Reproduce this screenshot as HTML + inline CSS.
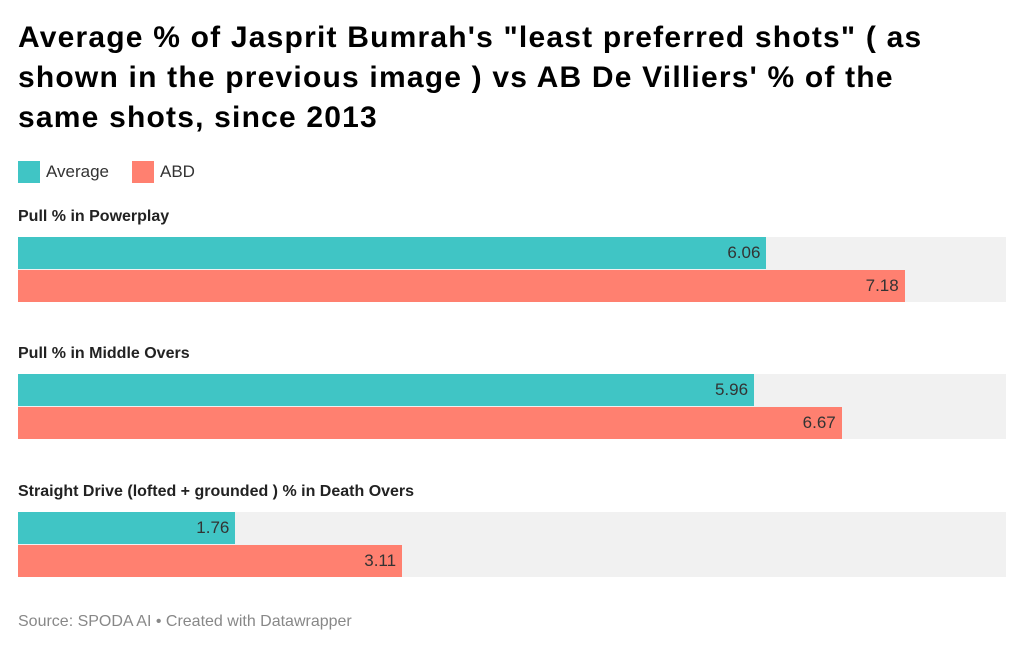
<!DOCTYPE html>
<html><head><meta charset="utf-8"><style>
body{margin:0;width:1024px;height:649px;background:#fff;font-family:"Liberation Sans",Arial,sans-serif;position:relative;overflow:hidden}
#title{position:absolute;left:18px;top:18px;font-size:30px;font-weight:bold;line-height:40px;color:#000;width:965px;letter-spacing:1.2px}
.leg{position:absolute;top:161px;font-size:17px;color:#333;display:flex;align-items:center}
.sw{width:22px;height:22px;margin-right:6px}
.lbl{position:absolute;left:18px;font-size:16px;font-weight:bold;color:#222}
.bg{position:absolute;left:18px;background:#f1f1f1}
.bar{position:absolute;left:18px}
.val{position:absolute;font-size:17px;color:#333;text-align:right}
#src{position:absolute;left:18px;top:613px;font-size:16px;color:#888}
</style></head><body>
<div id="title">Average % of Jasprit Bumrah's "least preferred shots" ( as shown in the previous image ) vs AB De Villiers' % of the same shots, since 2013</div>
<div class="leg" style="left:18px"><div class="sw" style="background:#40c5c5"></div>Average</div>
<div class="leg" style="left:132px"><div class="sw" style="background:#ff8070"></div>ABD</div>
<div id="chart"></div>
<div id="src">Source: SPODA AI • Created with Datawrapper</div>
<script>
const categories=["Pull % in Powerplay","Pull % in Middle Overs","Straight Drive (lofted + grounded ) % in Death Overs"];
const averageValues=[6.06,5.96,1.76];
const abdValues=[7.18,6.67,3.11];
const domainMax=8;
const left=18,width=988;
function x(v){return v/domainMax*width;}
const chart=document.getElementById('chart');
const groupTops=[237,374,512];
categories.forEach((c,i)=>{
  const top=groupTops[i];
  const l=document.createElement('div');l.className='lbl';l.style.top=(top-29)+'px';l.textContent=c;
  
  
  chart.appendChild(l);
  const bg=document.createElement('div');bg.className='bg';bg.style.top=top+'px';bg.style.width=width+'px';bg.style.height='65px';
  
  
  chart.appendChild(bg);
  [[averageValues[i],'#40c5c5',0,'bar-average'],[abdValues[i],'#ff8070',33,'bar-abd']].forEach(([v,col,off,nm])=>{
    const b=document.createElement('div');b.className='bar';b.style.top=(top+off)+'px';b.style.height='32px';b.style.width=x(v)+'px';b.style.background=col;
    
    
    chart.appendChild(b);
    const t=document.createElement('div');t.className='val';t.style.top=(top+off+6)+'px';t.style.left=(left+x(v)-66)+'px';t.style.width='60px';t.textContent=v.toFixed(2);
    
    
    chart.appendChild(t);
  });
});
</script>
</body></html>
